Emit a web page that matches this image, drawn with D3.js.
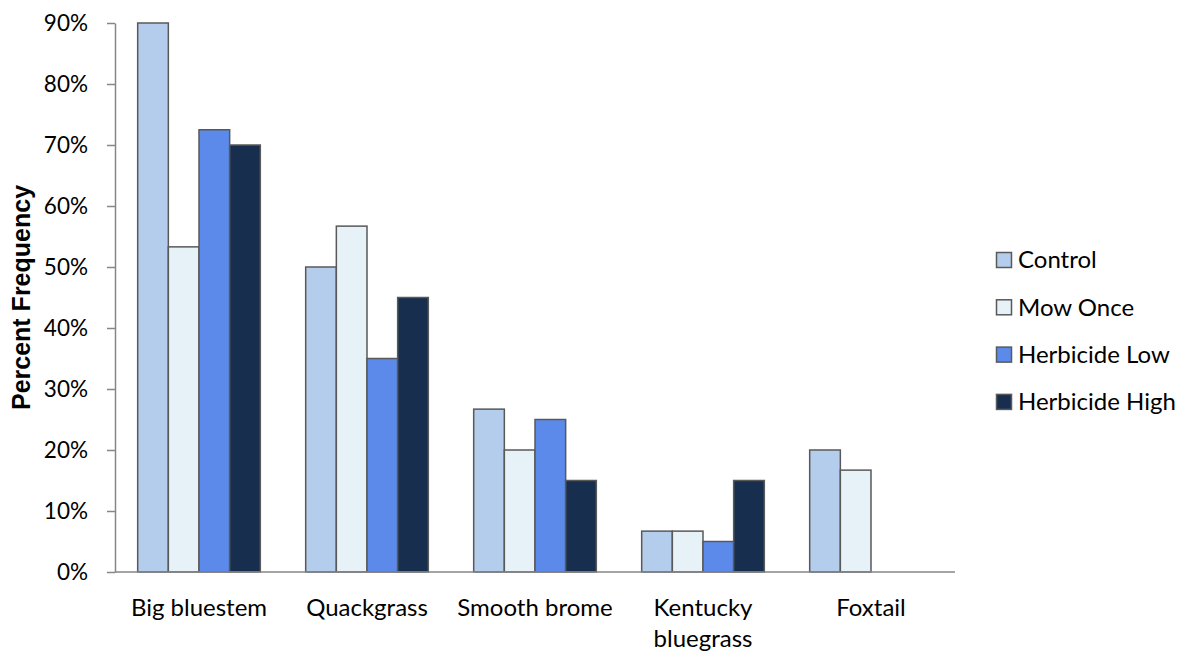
<!DOCTYPE html>
<html>
<head>
<meta charset="utf-8">
<script src="https://cdn.jsdelivr.net/npm/d3@7"></script>
<style>
  html, body { margin: 0; padding: 0; background: #fff; }
  svg { display: block; }
  text { font-family: Lato, "Open Sans", sans-serif; fill: #000; }
</style>
</head>
<body>
<svg id="chart" width="1178" height="652"></svg>
<script>
// Species surveyed and percent frequency per treatment
const categories = ["Big bluestem", "Quackgrass", "Smooth brome", "Kentucky bluegrass", "Foxtail"];
const seriesNames = ["Control", "Mow Once", "Herbicide Low", "Herbicide High"];
const control       = [90, 50, 26.7, 6.7, 20];
const mowOnce       = [53.3, 56.7, 20, 6.7, 16.7];
const herbicideLow  = [72.5, 35, 25, 5, 0];
const herbicideHigh = [70, 45, 15, 15, 0];
const yTicks = [0, 10, 20, 30, 40, 50, 60, 70, 80, 90];
const colors = ["#B4CDEC", "#E6F1F8", "#5B8AEB", "#172E4E"];

const series = [control, mowOnce, herbicideLow, herbicideHigh];

const svg = d3.select("#chart");
const margin = { left: 115, right: 223, top: 23, bottom: 80 };
const width = 1178, height = 652;

const x0 = d3.scaleBand()
  .domain(categories)
  .range([margin.left, width - margin.right])
  .paddingInner(0.27)
  .paddingOuter(0.135);

const x1 = d3.scaleBand()
  .domain(seriesNames)
  .range([0, x0.bandwidth()]);

const y = d3.scaleLinear()
  .domain([0, 90])
  .range([height - margin.bottom, margin.top]);

// Bars
categories.forEach((cat, ci) => {
  const g = svg.append("g").attr("transform", `translate(${x0(cat)},0)`);
  seriesNames.forEach((s, si) => {
    const v = series[si][ci];
    if (v <= 0) return;
    g.append("rect")
      .attr("x", x1(s))
      .attr("y", y(v))
      .attr("width", x1.bandwidth())
      .attr("height", y(0) - y(v))
      .attr("fill", colors[si])
      .attr("stroke", "#595959")
      .attr("stroke-width", 1.5);
  });
});

// Y axis
const yAxis = svg.append("g")
  .attr("transform", `translate(${margin.left},0)`)
  .call(d3.axisLeft(y).tickValues(yTicks).tickFormat(d => d + "%").tickSize(8).tickSizeOuter(0).tickPadding(19));
yAxis.attr("font-family", null).attr("font-size", null);
yAxis.select(".domain").attr("stroke", "#868686").attr("stroke-width", 1.5);
yAxis.selectAll(".tick line").attr("stroke", "#868686").attr("stroke-width", 1.5);
yAxis.selectAll(".tick text").style("font-size", "22.5px").attr("fill", "#000");

// X axis baseline
svg.append("line")
  .attr("x1", margin.left)
  .attr("x2", width - margin.right)
  .attr("y1", y(0))
  .attr("y2", y(0))
  .attr("stroke", "#868686")
  .attr("stroke-width", 1.5);

// Category labels (long names wrap onto two lines)
const labelY = y(0) + 44;
categories.forEach(cat => {
  const cx = x0(cat) + x0.bandwidth() / 2;
  const lines = (cat.length > 14) ? cat.split(" ") : [cat];
  const t = svg.append("text")
    .attr("x", cx)
    .attr("y", labelY)
    .attr("text-anchor", "middle")
    .style("font-size", "24px");
  lines.forEach((ln, i) => {
    t.append("tspan").attr("x", cx).attr("dy", i === 0 ? 0 : 30.5).text(ln);
  });
});

// Y axis title
svg.append("text")
  .attr("transform", `translate(30,${(y(0) + y(90)) / 2}) rotate(-90)`)
  .attr("text-anchor", "middle")
  .style("font-family", "'Liberation Sans', Arial, sans-serif")
  .style("font-weight", "bold")
  .style("font-size", "25px")
  .text("Percent Frequency");

// Legend
const legend = svg.append("g").attr("transform", "translate(996,260)");
seriesNames.forEach((s, i) => {
  const row = legend.append("g").attr("transform", `translate(0,${i * 47.3})`);
  row.append("rect")
    .attr("x", 0.5).attr("y", -7.5)
    .attr("width", 15).attr("height", 15)
    .attr("fill", colors[i])
    .attr("stroke", "#595959")
    .attr("stroke-width", 1.5);
  row.append("text")
    .attr("x", 22).attr("y", 0)
    .attr("dy", "0.35em")
    .style("font-size", "24px")
    .text(s);
});
</script>
</body>
</html>
